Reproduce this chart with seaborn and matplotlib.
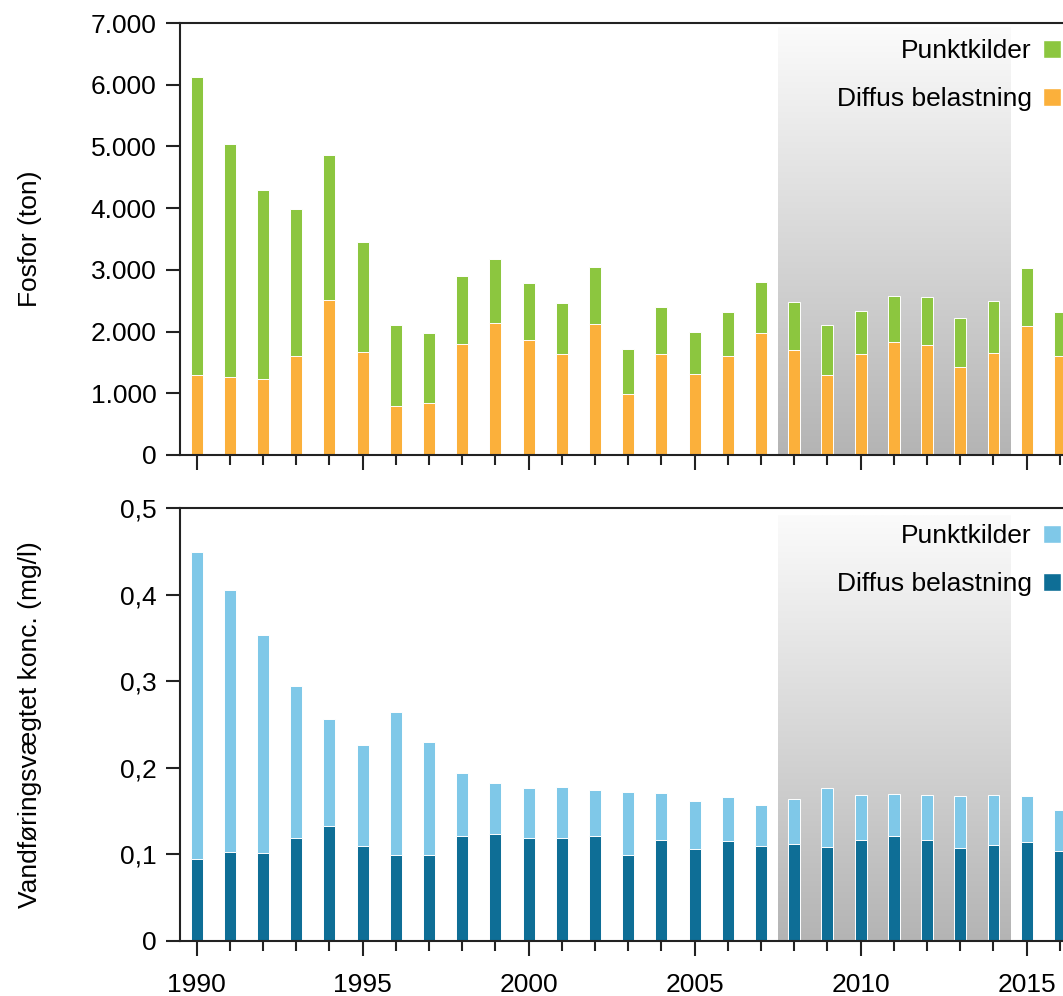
import numpy as np
import matplotlib
matplotlib.use("Agg")
import matplotlib.pyplot as plt
import seaborn as sns
from matplotlib.patches import Patch
from matplotlib.ticker import MultipleLocator, FuncFormatter, FixedLocator
from matplotlib.colors import LinearSegmentedColormap

# data
years = list(range(1990, 2017))

fosfor_diffus = [1290, 1265, 1230, 1610, 2515, 1665, 790, 845, 1805, 2145, 1870, 1640, 2120, 995,
                 1640, 1320, 1610, 1980, 1700, 1290, 1630, 1835, 1780, 1430, 1660, 2090, 1605]
fosfor_punkt = [4840, 3775, 3065, 2380, 2345, 1785, 1310, 1130, 1100, 1030, 910, 830, 930, 725,
                765, 675, 705, 815, 775, 810, 705, 740, 775, 790, 840, 935, 705]

konc_diffus = [0.095, 0.102, 0.101, 0.119, 0.133, 0.109, 0.099, 0.099, 0.121, 0.123, 0.119, 0.119,
               0.121, 0.099, 0.117, 0.106, 0.115, 0.110, 0.112, 0.108, 0.117, 0.121, 0.117, 0.107,
               0.111, 0.114, 0.104]
konc_punkt = [0.355, 0.304, 0.252, 0.176, 0.123, 0.117, 0.166, 0.131, 0.073, 0.059, 0.058, 0.059,
              0.053, 0.073, 0.054, 0.056, 0.051, 0.047, 0.052, 0.069, 0.052, 0.049, 0.052, 0.060,
              0.058, 0.053, 0.047]

shade_years = (2007.5, 2014.5)
labels = ["Punktkilder", "Diffus belastning"]

sns.set_style("ticks")
plt.rcParams["font.family"] = ["Liberation Sans", "DejaVu Sans"]
plt.rcParams["font.size"] = 19
plt.rcParams["text.color"] = "black"
plt.rcParams["xtick.color"] = "black"
plt.rcParams["ytick.color"] = "black"
plt.rcParams["axes.labelcolor"] = "black"

FS = 19

fig = plt.figure(figsize=(10.63, 9.96), dpi=100)
ax1 = fig.add_axes([0.1693, 0.5432, 0.8434, 0.4337])
ax2 = fig.add_axes([0.1693, 0.0555, 0.8434, 0.4342])

gray = LinearSegmentedColormap.from_list("shade", ["#b4b4b4", "#fbfbfb"])
grad = np.linspace(0, 1, 256).reshape(-1, 1)


def panel(ax, diffus, punkt, c_punkt, c_diffus, ymax, shade_top, step, fmt, ylabel, legend_y):
    total = np.array(diffus) + np.array(punkt)
    ax.imshow(grad, cmap=gray, origin="lower", aspect="auto", zorder=0,
              extent=[shade_years[0], shade_years[1], 0, shade_top])
    sns.barplot(x=years, y=total, native_scale=True, width=0.36, color=c_punkt,
                saturation=1, errorbar=None, edgecolor="white", linewidth=0.7, ax=ax, zorder=2)
    sns.barplot(x=years, y=diffus, native_scale=True, width=0.36, color=c_diffus,
                saturation=1, errorbar=None, edgecolor="white", linewidth=0.7, ax=ax, zorder=3)
    ax.set_xlim(1989.5, 2016.5)
    ax.set_ylim(0, ymax)
    ax.yaxis.set_major_locator(MultipleLocator(step))
    ax.yaxis.set_major_formatter(FuncFormatter(fmt))
    ax.xaxis.set_major_locator(FixedLocator([1990, 1995, 2000, 2005, 2010, 2015]))
    ax.xaxis.set_minor_locator(MultipleLocator(1))
    ax.xaxis.set_major_formatter(FuncFormatter(lambda v, p: f"{int(v)}"))
    for s in ["top", "left", "bottom"]:
        ax.spines[s].set_visible(True)
        ax.spines[s].set_color("#222222")
        ax.spines[s].set_linewidth(1.5)
        ax.spines[s].set_zorder(5)
    ax.spines["right"].set_visible(False)
    ax.tick_params(axis="y", length=10, width=1.5, color="#222222", pad=7, labelsize=FS)
    ax.tick_params(axis="x", which="major", length=10.5, width=1.5, color="#222222", pad=13, labelsize=FS)
    ax.tick_params(axis="x", which="minor", length=7, width=1.5, color="#222222")
    ax.set_xlabel("")
    ax.set_ylabel(ylabel, fontsize=FS)
    ax.yaxis.set_label_coords(-0.154, 0.5)
    handles = [Patch(facecolor=c_punkt), Patch(facecolor=c_diffus)]
    fig.legend(handles, labels, loc="upper right", bbox_to_anchor=(1061 / 1063, legend_y),
               bbox_transform=fig.transFigure, frameon=False, markerfirst=False,
               handlelength=0.68, handleheight=0.68, handletextpad=0.42,
               labelspacing=0.92, borderpad=0, borderaxespad=0, fontsize=FS)


def fmt_ton(v, p):
    return "0" if v == 0 else f"{int(v):,}".replace(",", ".")


def fmt_konc(v, p):
    return "0" if abs(v) < 1e-9 else f"{v:.1f}".replace(".", ",")


panel(ax1, fosfor_diffus, fosfor_punkt, "#8cc63f", "#fbb03b", 7000, 6934, 1000, fmt_ton,
      "Fosfor (ton)", 1 - 39 / 996)
panel(ax2, konc_diffus, konc_punkt, "#7fc8e8", "#0e6e96", 0.5, 0.492, 0.1, fmt_konc,
      "Vandføringsvægtet konc. (mg/l)", 1 - 524 / 996)
ax1.tick_params(axis="x", labelbottom=False)

fig.savefig("out.png", dpi=100)
